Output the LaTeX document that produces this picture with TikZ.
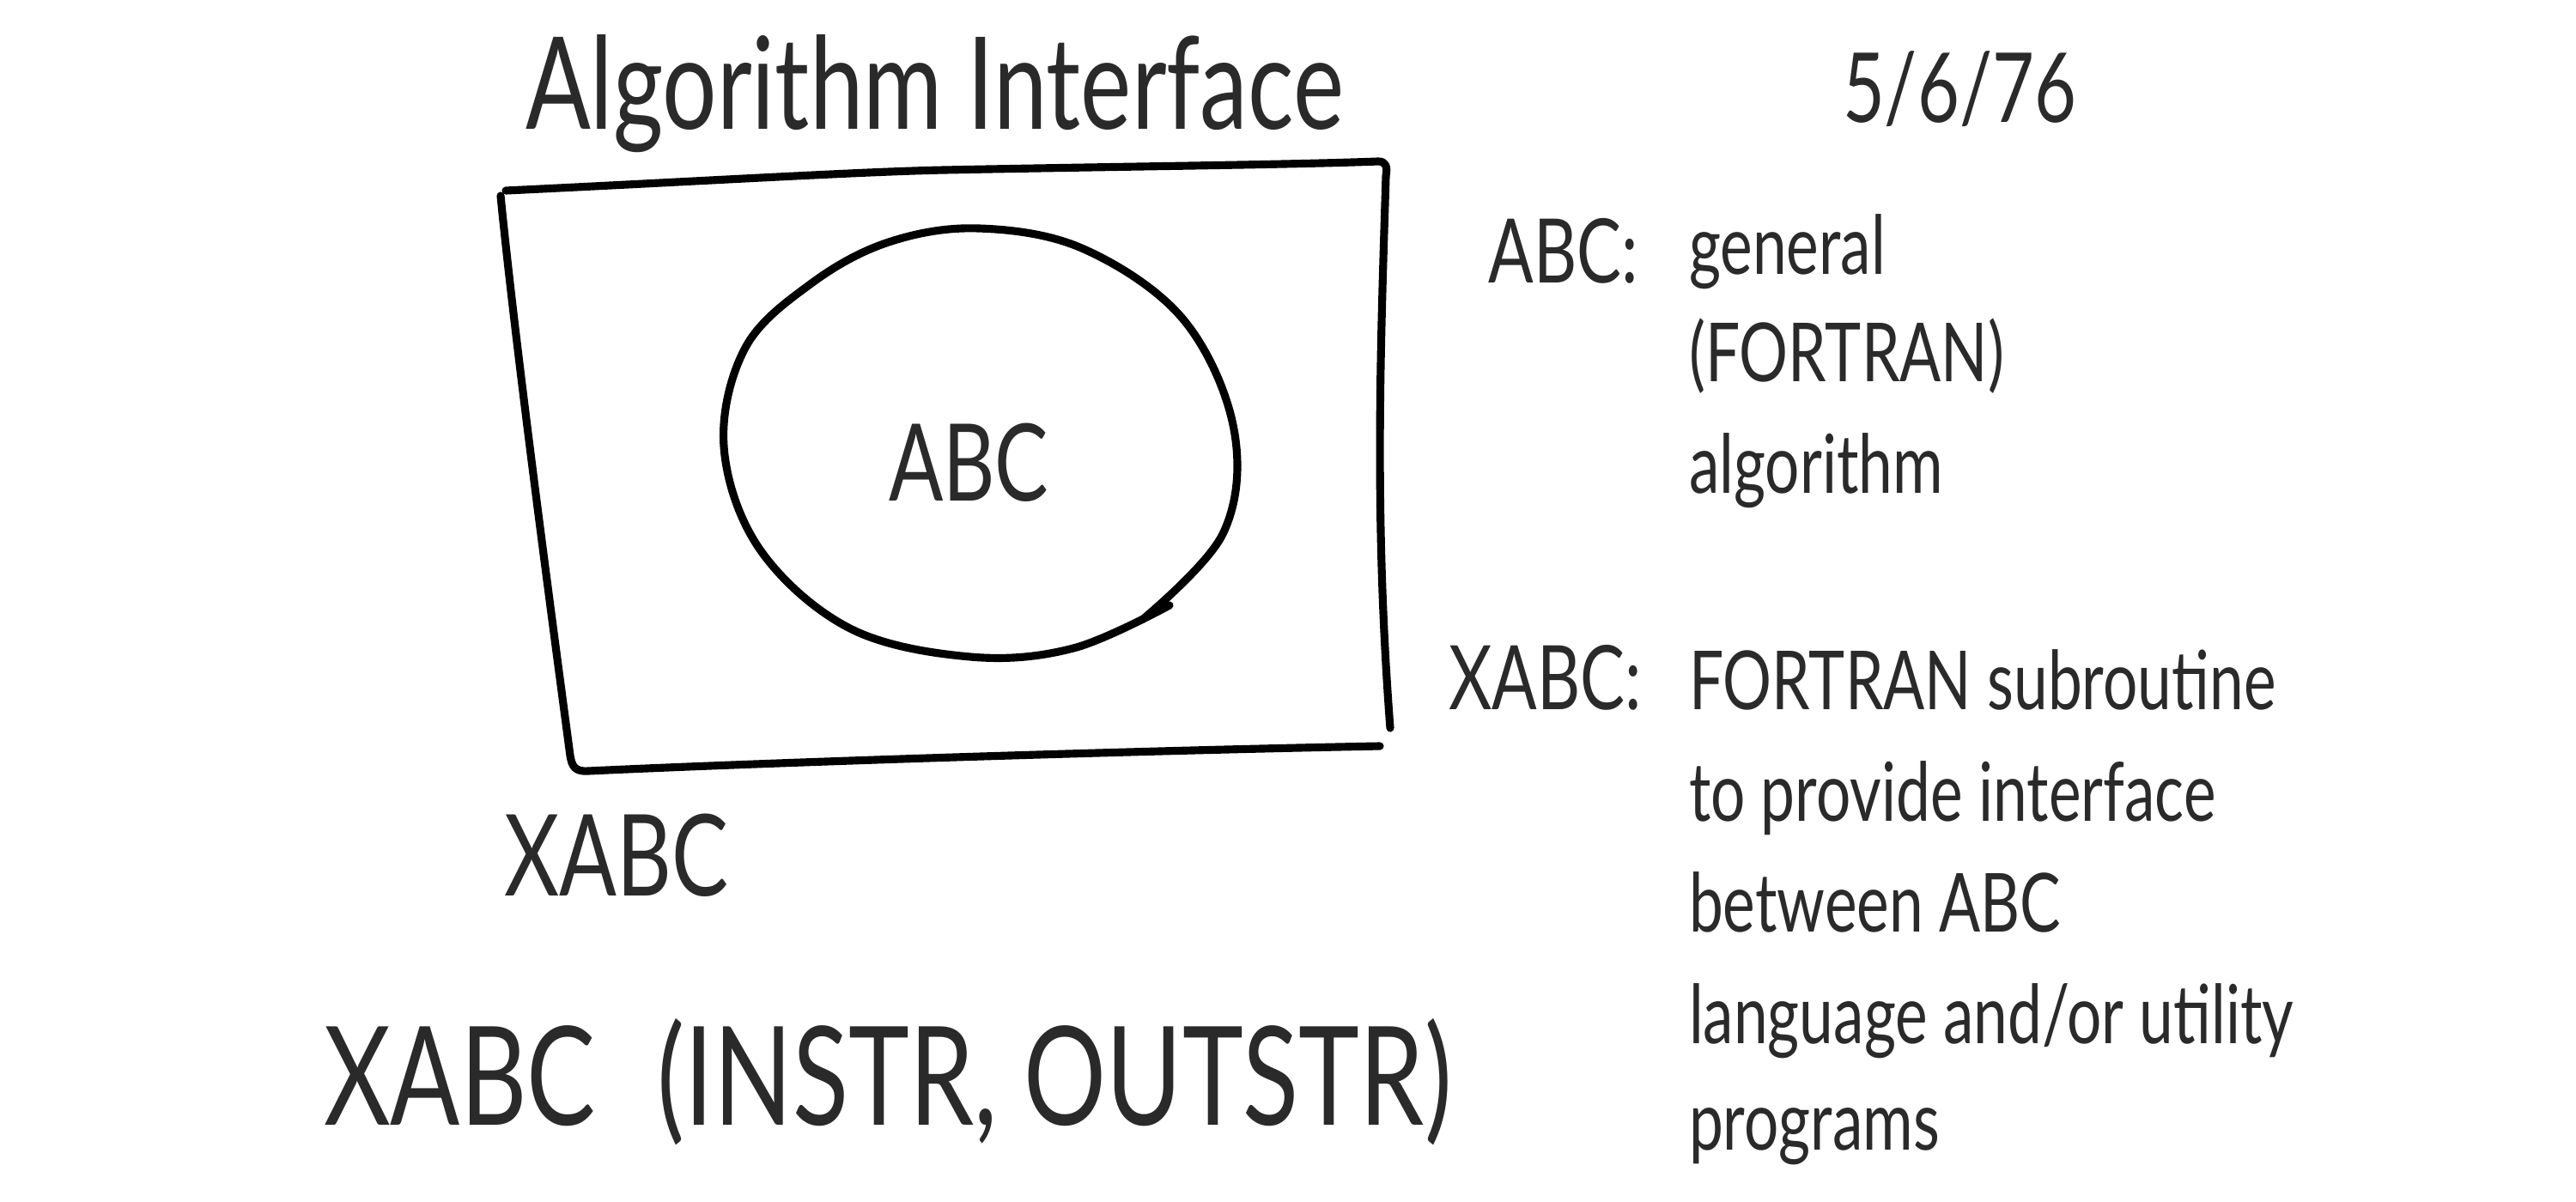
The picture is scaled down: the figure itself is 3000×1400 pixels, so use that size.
\documentclass[tikz,border=0pt]{standalone}
\usepackage{fontspec}
\setmainfont{Lato}[FakeStretch=0.75]
\definecolor{ink}{HTML}{2A2A2A}
\begin{document}
\begin{tikzpicture}[x=0.01cm,y=-0.01cm,
  txt/.style={inner sep=0pt, outer sep=0pt, text=ink, anchor=base west},
  rtxt/.style={txt, anchor=base east},
  mid/.style={font=\fontsize{27}{32}\selectfont},
  lbl/.style={font=\fontsize{29.5}{35}\selectfont},
  stroke/.style={line width=2.6pt, line cap=round, line join=round, draw=black}]
\useasboundingbox (0,0) rectangle (3000,1400);
\fill[white] (0,0) rectangle (3000,1400);

% box
\draw[stroke] (589,222) .. controls (800,212) and (1000,200) .. (1100,198)
  .. controls (1300,194) and (1500,192) .. (1605,188)
  .. controls (1614,188) and (1616,194) .. (1614,205)
  .. controls (1608,400) and (1600,600) .. (1619,848);
\draw[stroke] (583,228) .. controls (600,400) and (640,700) .. (664,880)
  .. controls (666,893) and (670,899) .. (685,898)
  .. controls (900,888) and (1300,875) .. (1607,869);

% blob
\draw[stroke] plot[smooth, tension=0.6] coordinates {(1362,705) (1250,755) (1130,765) (990,732) (885,640) (843,520) (868,405) (945,330) (1035,282) (1140,266) (1262,290) (1378,372) (1437,500) (1424,622) (1330,722)};

% texts
\node[txt, font=\fontsize{42.5}{50}\selectfont] (title) at (612,150) {Algorithm Interface};
\node[txt, font=\fontsize{32}{38}\selectfont] (date) at (2146,143) {5/6/76};
\node[txt, font=\fontsize{35.5}{42}\selectfont] (abc) at (1035,583) {ABC};
\node[txt, font=\fontsize{37.5}{44}\selectfont] (xabc) at (587,1043) {XABC};
\node[txt, font=\fontsize{45.5}{54}\selectfont] (call) at (377,1310) {XABC\hspace{0.45em}(INSTR, OUTSTR)};

\node[rtxt, lbl] (abcl) at (1908,329) {ABC:};
\node[rtxt, lbl] (xabcl) at (1912,826) {XABC:};

\node[txt, mid] (l1) at (1967,319) {general};
\node[txt, mid] (l2) at (1967,444) {(FORTRAN)};
\node[txt, mid] (l3) at (1967,574) {algorithm};
\node[txt, mid] (l4) at (1967,826) {FORTRAN subroutine};
\node[txt, mid] (l5) at (1967,956) {to provide interface};
\node[txt, mid] (l6) at (1967,1085) {between ABC};
\node[txt, mid] (l7) at (1967,1215) {language and/or utility};
\node[txt, mid] (l8) at (1967,1339) {programs};
\end{tikzpicture}
\end{document}
